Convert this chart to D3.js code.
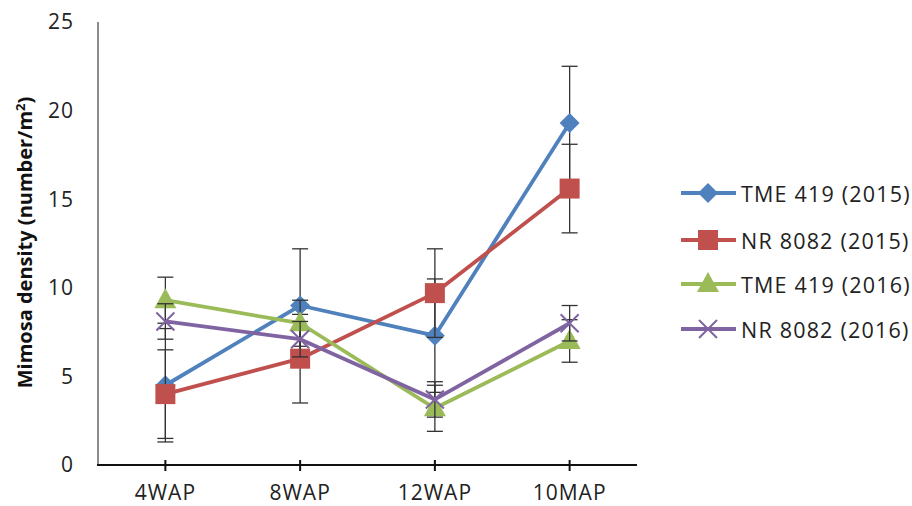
<!DOCTYPE html>
<html>
<head>
<meta charset="utf-8">
<script src="https://cdn.jsdelivr.net/npm/d3@7"></script>
<style>
  html, body { margin: 0; padding: 0; background: #fff; overflow: hidden; }
  svg { display: block; }
  svg text { font-family: "Open Sans", "Noto Sans", sans-serif; fill: #222; }
</style>
</head>
<body>
<div id="chart"></div>
<script>
// Mimosa density by sampling time
const categories = ["4WAP", "8WAP", "12WAP", "10MAP"];
const seriesNames = ["TME 419 (2015)", "NR 8082 (2015)", "TME 419 (2016)", "NR 8082 (2016)"];

const tme2015 = [4.5, 9.0, 7.3, 19.3];
const nr2015  = [4.0, 6.0, 9.7, 15.6];
const tme2016 = [9.3, 8.0, 3.2, 7.0];
const nr2016  = [8.1, 7.1, 3.7, 8.0];

const tme2015Err = [3.2, 3.2, 3.2, 3.2];
const nr2015Err  = [2.5, 2.5, 2.5, 2.5];
const tme2016Err = [1.3, 1.3, 1.3, 1.2];
const nr2016Err  = [1.0, 1.0, 1.0, 1.0];

const yTicks = [0, 5, 10, 15, 20, 25];

/* ---------- setup ---------- */
const W = 912, H = 506;
const margin = { top: 22, right: 275, bottom: 41, left: 98 };

const colors  = ["#4f81bd", "#c0504d", "#9bbb59", "#8064a2"];
const symbols = ["diamond", "square", "triangle", "cross"];
const values  = [tme2015, nr2015, tme2016, nr2016];
const errs    = [tme2015Err, nr2015Err, tme2016Err, nr2016Err];

const series = seriesNames.map((name, i) => ({
  name, color: colors[i], symbol: symbols[i],
  points: categories.map((c, j) => ({ cat: c, v: values[i][j], e: errs[i][j] }))
}));

const svg = d3.select("#chart").append("svg")
  .attr("width", W).attr("height", H);

const x = d3.scalePoint().domain(categories)
  .range([margin.left, W - margin.right]).padding(0.5);
const y = d3.scaleLinear().domain([0, 25])
  .range([H - margin.bottom, margin.top]);

// Axes
svg.append("line")
  .attr("x1", margin.left).attr("x2", margin.left)
  .attr("y1", y(25)).attr("y2", y(0))
  .attr("stroke", "#8c8c8c").attr("stroke-width", 2);

svg.append("line")
  .attr("x1", margin.left - 1).attr("x2", W - margin.right)
  .attr("y1", y(0)).attr("y2", y(0))
  .attr("stroke", "#111").attr("stroke-width", 2);

svg.selectAll("line.xtick").data(categories).join("line")
  .attr("class", "xtick")
  .attr("x1", d => x(d)).attr("x2", d => x(d))
  .attr("y1", y(0) - 5).attr("y2", y(0) + 6)
  .attr("stroke", "#111").attr("stroke-width", 2);

svg.selectAll("text.xlab").data(categories).join("text")
  .attr("class", "xlab")
  .attr("x", d => x(d)).attr("y", H - 6)
  .attr("text-anchor", "middle")
  .style("font-size", "21px").style("letter-spacing", "1px")
  .text(d => d);

svg.selectAll("text.ylab").data(yTicks).join("text")
  .attr("class", "ylab")
  .attr("x", 74).attr("y", d => y(d))
  .attr("dy", "0.35em")
  .attr("text-anchor", "end")
  .style("font-size", "21px").style("letter-spacing", "1px")
  .text(d => d);

const title = svg.append("text")
  .attr("transform", `translate(32,${(y(0) + y(25)) / 2 - 1}) rotate(-90)`)
  .attr("text-anchor", "middle")
  .style("font-size", "20px").style("font-weight", "bold").style("fill", "#111");
title.append("tspan").text("Mimosa density (number/m");
title.append("tspan").attr("dy", "-7").style("font-size", "13px").text("2");
title.append("tspan").attr("dy", "7").text(")");

/* ---------- markers ---------- */
function drawMarker(g, s, cx, cy) {
  if (s.symbol === "diamond") {
    g.append("path")
      .attr("d", `M${cx},${cy - 10}L${cx + 10},${cy}L${cx},${cy + 10}L${cx - 10},${cy}Z`)
      .attr("fill", s.color);
  } else if (s.symbol === "square") {
    g.append("rect")
      .attr("x", cx - 10).attr("y", cy - 10)
      .attr("width", 20).attr("height", 20)
      .attr("fill", s.color);
  } else if (s.symbol === "triangle") {
    g.append("path")
      .attr("d", `M${cx},${cy - 12}L${cx + 11},${cy + 8}L${cx - 11},${cy + 8}Z`)
      .attr("fill", s.color);
  } else {
    g.append("path")
      .attr("d", `M${cx - 9},${cy - 9}L${cx + 9},${cy + 9}M${cx - 9},${cy + 9}L${cx + 9},${cy - 9}`)
      .attr("stroke", s.color).attr("stroke-width", 2).attr("fill", "none");
  }
}

/* ---------- series ---------- */
const line = d3.line().x(d => x(d.cat)).y(d => y(d.v));

series.forEach(s => {
  const g = svg.append("g");

  // error bars
  s.points.forEach(p => {
    const cx = x(p.cat);
    const y1 = y(p.v - p.e), y2 = y(p.v + p.e);
    g.append("line").attr("x1", cx).attr("x2", cx).attr("y1", y1).attr("y2", y2)
      .attr("stroke", "#333").attr("stroke-width", 1.3);
    [y1, y2].forEach(yy => g.append("line")
      .attr("x1", cx - 8).attr("x2", cx + 8).attr("y1", yy).attr("y2", yy)
      .attr("stroke", "#333").attr("stroke-width", 1.3));
  });

  g.append("path").datum(s.points)
    .attr("d", line)
    .attr("fill", "none")
    .attr("stroke", s.color)
    .attr("stroke-width", 3.8)
    .attr("stroke-linejoin", "round");

  s.points.forEach(p => drawMarker(g, s, x(p.cat), y(p.v)));
});

/* ---------- legend ---------- */
const legY = [193, 240, 284, 329];
series.forEach((s, i) => {
  const g = svg.append("g");
  const ly = legY[i];
  g.append("line").attr("x1", 681).attr("x2", 736).attr("y1", ly).attr("y2", ly)
    .attr("stroke", s.color).attr("stroke-width", 3.8);
  drawMarker(g, s, 708, ly);
  g.append("text").attr("x", 741).attr("y", ly + 1).attr("dy", "0.35em")
    .style("font-size", "21.5px").style("letter-spacing", "1.2px")
    .text(s.name);
});
</script>
</body>
</html>
